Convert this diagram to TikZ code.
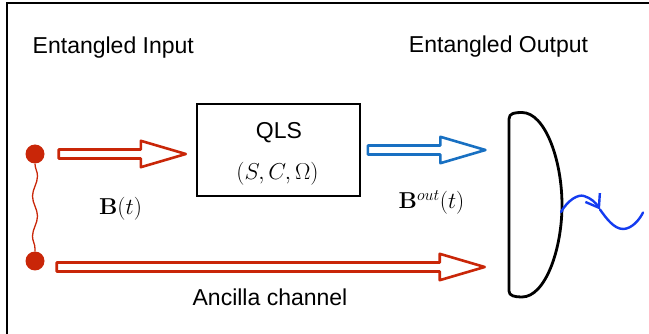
\RequirePackage{fix-cm}
\documentclass[tikz,border=0pt]{standalone}
\usepackage[no-math]{fontspec}
\setmainfont{Liberation Sans}
\usetikzlibrary{calc,arrows.meta,decorations.pathmorphing}
\definecolor{dotred}{RGB}{201,38,8}
\definecolor{outblue}{RGB}{24,112,194}
\definecolor{inkblue}{RGB}{20,60,240}
\newcommand{\fatarrow}[3]{%
  \draw[#1] let \p1=(#2), \p2=(#3) in
    (\x1,\y1+4.5pt) -- (\x2-45pt,\y1+4.5pt) -- (\x2-45pt,\y1+13.2pt) -- (\x2,\y1)
    -- (\x2-45pt,\y1-13.2pt) -- (\x2-45pt,\y1-4.5pt) -- (\x1,\y1-4.5pt) -- cycle ;}

\begin{document}
\begin{tikzpicture}[x=1pt,y=-1pt,
    lbl/.style={font=\fontsize{23}{27}\selectfont,anchor=base,inner sep=0pt},
    dot/.style={circle,fill=dotred,inner sep=0pt,minimum size=19pt},
    fat/.style={line width=2.6pt,line join=round,fill=white},
    qlsbox/.style={draw,line width=2pt,minimum width=163pt,minimum height=91.5pt,inner sep=0pt}]
      \useasboundingbox (0,0) rectangle (649,334) ;
      \draw[line width=2pt] (7,345) -- (7,3.3) -- (660,3.3) ;
      \node[lbl] (tin) at (113.3,53.3) {Entangled Input} ;
      \node[lbl] (tout) at (498.5,53) {Entangled Output} ;
      \node[dot] (ein) at (35,154) {} ;
      \node[dot] (ean) at (35,261) {} ;
      \draw[dotred,line width=1.3pt,decorate,decoration={snake,segment length=40pt,amplitude=2.5pt}]
        (ein) -- (ean) ;
      \node[qlsbox] (qls) at (278.3,150) {} ;
      \node[lbl] (qlsname) at (279,138.3) {QLS} ;
      \node[lbl] (qlspar) at (277.5,179.4) {$(S,C,\Omega)$} ;
      \coordinate (mir) at (509,205) ;
      \coordinate (mirout) at (561,212) ;
      \coordinate (sq) at (643,212.5) ;
      \draw[line width=2.8pt,line join=round] (509,291) -- (509,119)
        .. controls (509,113) and (515,112.5) .. (522,112.5)
        .. controls (545,112.5) and (562,160) .. (562,205)
        .. controls (562,250) and (545,297) .. (522,297)
        .. controls (515,297) and (509,296) .. (509,291) -- cycle ;
      \fatarrow{fat,draw=dotred}{[xshift=14pt]ein.east}{[xshift=-10pt]qls.west}
      \fatarrow{fat,draw=outblue}{[xshift=7pt]qls.east}{[xshift=-23.6pt]mir}
      \fatarrow{fat,draw=dotred}{[xshift=12pt,yshift=-6pt]ean.east}{[xshift=-24.3pt]mir}
      \node[lbl] (bin) at (120.5,215) {$\mathbf{B}(t)$} ;
      \node[lbl] (bout) at (431.5,209) {$\mathbf{B}^{out}(t)$} ;
      \node[lbl] (anc) at (270,305.7) {Ancilla channel} ;
      \draw[inkblue,line width=2.4pt,line cap=round,-{Straight Barb[length=12pt,width=17pt]}]
        (mirout) .. controls (568,200) and (578,194) .. (584,196)
        .. controls (591,198) and (596,203) .. (600,209.5) ;
      \draw[inkblue,line width=2.4pt,line cap=round] (600,209.5)
        .. controls (606,218) and (614,229) .. (623,229)
        .. controls (632,229) and (640,219) .. (sq) ;
\end{tikzpicture}
\end{document}
